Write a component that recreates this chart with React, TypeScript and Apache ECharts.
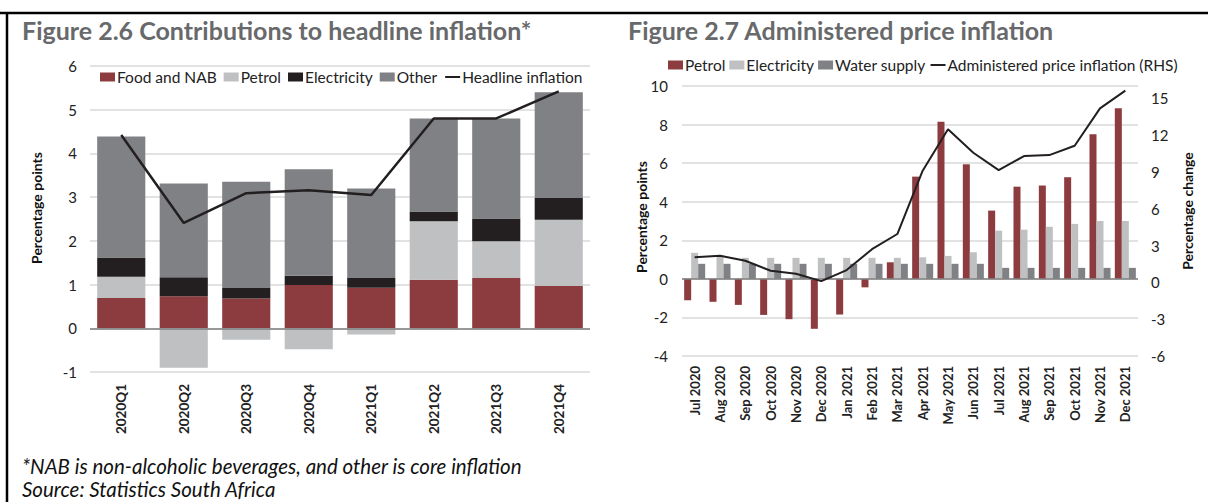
import React, { useEffect, useRef } from 'react';
import * as echarts from 'echarts';

// ---- Figure 2.6 data ----
const quarters = ['2020Q1', '2020Q2', '2020Q3', '2020Q4', '2021Q1', '2021Q2', '2021Q3', '2021Q4'];
const foodNab = [0.69, 0.73, 0.68, 0.99, 0.93, 1.11, 1.15, 0.97];
const petrolQ = [0.49, -0.9, -0.26, -0.48, -0.14, 1.34, 0.84, 1.51];
const electricityQ = [0.44, 0.44, 0.24, 0.21, 0.22, 0.22, 0.52, 0.5];
const otherQ = [2.77, 2.14, 2.43, 2.44, 2.05, 2.13, 2.29, 2.42];
const headline = [4.42, 2.41, 3.09, 3.16, 3.05, 4.8, 4.8, 5.42];
const leftTicks = { min: -1, max: 6, interval: 1 };

// ---- Figure 2.7 data ----
const months = [
  'Jul 2020', 'Aug 2020', 'Sep 2020', 'Oct 2020', 'Nov 2020', 'Dec 2020',
  'Jan 2021', 'Feb 2021', 'Mar 2021', 'Apr 2021', 'May 2021', 'Jun 2021',
  'Jul 2021', 'Aug 2021', 'Sep 2021', 'Oct 2021', 'Nov 2021', 'Dec 2021',
];
const petrolM = [-1.11, -1.19, -1.35, -1.87, -2.09, -2.59, -1.85, -0.44, 0.86, 5.3, 8.14, 5.94, 3.54, 4.78, 4.84, 5.27, 7.5, 8.84];
const electricityM = [1.35, 1.22, 1.09, 1.09, 1.09, 1.09, 1.09, 1.09, 1.09, 1.12, 1.19, 1.38, 2.5, 2.55, 2.7, 2.85, 3.0, 3.0];
const waterM = [0.78, 0.78, 0.78, 0.78, 0.78, 0.78, 0.78, 0.78, 0.78, 0.78, 0.78, 0.78, 0.57, 0.57, 0.57, 0.57, 0.57, 0.57];
const administered = [2.04, 2.17, 1.76, 0.95, 0.7, 0.1, 1.0, 2.7, 3.94, 9.1, 12.47, 10.56, 9.15, 10.29, 10.37, 11.13, 14.18, 15.62];
const rightLeftTicks = { min: -4, max: 10, interval: 2 };
const rightRightTicks = { min: -6, max: 16, interval: 3 };

const RED = '#8C3C3F';
const LIGHT = '#BFC0C2';
const BLACK = '#231F20';
const GRAY = '#808184';
const GRID = '#D9D9D9';
const FONT = 'Lato';

const legendNames: Record<string, string> = {
  m_petrol: 'Petrol',
  m_elec: 'Electricity',
  m_water: 'Water supply',
  m_admin: 'Administered price inflation (RHS)',
};

export default function App() {
  const ref = useRef<HTMLDivElement>(null);
  useEffect(() => {
    if (!ref.current) return;
    const chart = echarts.init(ref.current, null, { renderer: 'svg' });
    const zeroLine = {
      silent: true,
      symbol: 'none',
      label: { show: false },
      lineStyle: { color: '#7F7F7F', width: 1.5, type: 'solid' },
      data: [{ yAxis: 0 }],
    };
    const option: any = {
      animation: false,
      textStyle: { fontFamily: FONT },
      grid: [
        { left: 90, top: 66, width: 500, height: 306 },
        { left: 682, top: 86, width: 456, height: 270 },
      ],
      legend: [
        {
          left: 95,
          top: 64,
          itemWidth: 15,
          itemHeight: 9,
          itemGap: 7,
          textStyle: { fontSize: 15.5, color: '#222', fontFamily: FONT, padding: [0, 0, 0, -3] },
          data: [
            { name: 'Food and NAB', icon: 'rect' },
            { name: 'Petrol', icon: 'rect' },
            { name: 'Electricity', icon: 'rect' },
            { name: 'Other', icon: 'rect' },
            { name: 'Headline inflation', itemStyle: { opacity: 0 } },
          ],
        },
        {
          left: 663,
          top: 52,
          itemWidth: 15,
          itemHeight: 9,
          itemGap: 4,
          formatter: (n: string) => legendNames[n] || n,
          textStyle: { fontSize: 15.5, color: '#222', fontFamily: FONT, padding: [0, 0, 0, -3] },
          data: [
            { name: 'm_petrol', icon: 'rect' },
            { name: 'm_elec', icon: 'rect' },
            { name: 'm_water', icon: 'rect' },
            { name: 'm_admin', itemStyle: { opacity: 0 } },
          ],
        },
      ],
      xAxis: [
        {
          type: 'category',
          gridIndex: 0,
          data: quarters,
          axisLine: { show: false },
          axisTick: { show: false },
          axisLabel: { rotate: 90, fontWeight: 'bold', fontSize: 13.5, color: '#222', margin: 12, fontFamily: FONT },
        },
        {
          type: 'category',
          gridIndex: 1,
          data: months,
          axisLine: { show: false },
          axisTick: { show: false },
          axisLabel: { rotate: 90, fontWeight: 'bold', fontSize: 13, color: '#222', margin: 10, fontFamily: FONT },
        },
      ],
      yAxis: [
        {
          type: 'value',
          gridIndex: 0,
          ...leftTicks,
          axisLine: { show: false },
          axisTick: { show: false },
          axisLabel: { fontSize: 15, color: '#222', margin: 13, fontFamily: FONT },
          splitLine: { lineStyle: { color: GRID, width: 1.5 } },
        },
        {
          type: 'value',
          gridIndex: 1,
          ...rightLeftTicks,
          axisLine: { show: false },
          axisTick: { show: false },
          axisLabel: { fontSize: 15, color: '#222', margin: 14, fontFamily: FONT },
          splitLine: { lineStyle: { color: GRID, width: 1.5 } },
        },
        {
          type: 'value',
          gridIndex: 1,
          position: 'right',
          ...rightRightTicks,
          axisLine: { show: false },
          axisTick: { show: false },
          splitLine: { show: false },
          axisLabel: {
            fontSize: 15,
            color: '#222',
            margin: 13,
            fontFamily: FONT,
            formatter: (v: number) => (v === 16 ? '' : String(v)),
          },
        },
      ],
      series: [
        {
          name: 'Food and NAB', type: 'bar', stack: 'q', xAxisIndex: 0, yAxisIndex: 0,
          data: foodNab, itemStyle: { color: RED }, barCategoryGap: '23%', markLine: zeroLine,
        },
        { name: 'Petrol', type: 'bar', stack: 'q', xAxisIndex: 0, yAxisIndex: 0, data: petrolQ, itemStyle: { color: LIGHT } },
        { name: 'Electricity', type: 'bar', stack: 'q', xAxisIndex: 0, yAxisIndex: 0, data: electricityQ, itemStyle: { color: BLACK } },
        { name: 'Other', type: 'bar', stack: 'q', xAxisIndex: 0, yAxisIndex: 0, data: otherQ, itemStyle: { color: GRAY } },
        {
          name: 'Headline inflation', type: 'line', xAxisIndex: 0, yAxisIndex: 0, data: headline,
          symbol: 'none', lineStyle: { color: BLACK, width: 2.5 }, itemStyle: { color: BLACK }, z: 5,
        },
        {
          name: 'm_petrol', type: 'bar', xAxisIndex: 1, yAxisIndex: 1, data: petrolM,
          itemStyle: { color: RED }, barGap: '0%', barCategoryGap: '17%', markLine: zeroLine,
        },
        { name: 'm_elec', type: 'bar', xAxisIndex: 1, yAxisIndex: 1, data: electricityM, itemStyle: { color: LIGHT }, barGap: '0%' },
        { name: 'm_water', type: 'bar', xAxisIndex: 1, yAxisIndex: 1, data: waterM, itemStyle: { color: GRAY }, barGap: '0%' },
        {
          name: 'm_admin', type: 'line', xAxisIndex: 1, yAxisIndex: 2, data: administered,
          symbol: 'none', lineStyle: { color: BLACK, width: 2 }, itemStyle: { color: BLACK }, z: 5,
        },
      ],
      graphic: [
        { type: 'line', shape: { x1: 0, y1: 13, x2: 1208, y2: 13 }, style: { stroke: '#000', lineWidth: 2.5 } },
        { type: 'line', shape: { x1: 7, y1: 13, x2: 7, y2: 502 }, style: { stroke: '#000', lineWidth: 2.5 } },
        {
          type: 'text', x: 22, y: 30,
          style: { text: 'Figure 2.6 Contributions to headline inflation*', font: `bold 25px ${FONT}`, fill: '#68696B', textVerticalAlign: 'middle' },
        },
        {
          type: 'text', x: 628, y: 30,
          style: { text: 'Figure 2.7 Administered price inflation', font: `bold 25px ${FONT}`, fill: '#68696B', textVerticalAlign: 'middle' },
        },
        {
          type: 'text', x: 36, y: 208, rotation: Math.PI / 2,
          style: { text: 'Percentage points', font: `bold 14px ${FONT}`, fill: '#111', textAlign: 'center', textVerticalAlign: 'middle' },
        },
        {
          type: 'text', x: 641, y: 217, rotation: Math.PI / 2,
          style: { text: 'Percentage points', font: `bold 14px ${FONT}`, fill: '#111', textAlign: 'center', textVerticalAlign: 'middle' },
        },
        {
          type: 'text', x: 1187, y: 211, rotation: Math.PI / 2,
          style: { text: 'Percentage change', font: `bold 14px ${FONT}`, fill: '#111', textAlign: 'center', textVerticalAlign: 'middle' },
        },
        {
          type: 'text', x: 22, y: 466,
          style: { text: '*NAB is non-alcoholic beverages, and other is core inflation', font: `italic 20.5px ${FONT}`, fill: '#111', textVerticalAlign: 'middle' },
        },
        {
          type: 'text', x: 22, y: 489,
          style: { text: 'Source: Statistics South Africa', font: `italic 20.5px ${FONT}`, fill: '#111', textVerticalAlign: 'middle' },
        },
      ],
    };
    chart.setOption(option);
    return () => chart.dispose();
  }, []);
  return (
    <div
      ref={ref}
      style={{ position: 'absolute', left: 0, top: 0, width: 1208, height: 502, background: '#fff' }}
    />
  );
}
